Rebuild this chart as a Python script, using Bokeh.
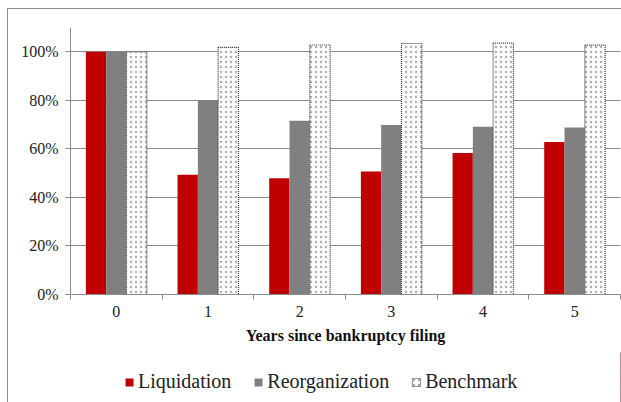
from bokeh.plotting import figure
from bokeh.layouts import column
from bokeh.models import (ColumnDataSource, FixedTicker, Legend, LegendItem,
                          NumeralTickFormatter, Range1d)
from bokeh.transform import dodge
from bokeh.embed import file_html
from bokeh.resources import INLINE

years = [0, 1, 2, 3, 4, 5]
liquidation = [1.00, 0.493, 0.479, 0.507, 0.583, 0.628]
reorganization = [1.00, 0.801, 0.716, 0.698, 0.691, 0.688]
benchmark = [1.00, 1.018, 1.028, 1.034, 1.036, 1.027]
y_ticks = [0, 0.2, 0.4, 0.6, 0.8, 1.0]
x_title = "Years since bankruptcy filing"
series_names = ["Liquidation", "Reorganization", "Benchmark"]

src = ColumnDataSource(dict(x=years, liq=liquidation, reo=reorganization, ben=benchmark))

SERIF = "Liberation Serif"
W = 0.2215
RED = "#C00000"
GRAY = "#808080"
AX = "#8c8c8c"
BEN = dict(fill_color="white", line_color="#333333", line_dash="1 1", line_width=1.2,
           hatch_pattern=".", hatch_color="#b0b0b0", hatch_scale=5, hatch_weight=1)

p = figure(width=613, height=343, output_backend="svg", toolbar_location=None,
           x_range=Range1d(-0.5, 5.5), y_range=Range1d(0, 1.1),
           min_border_left=62, min_border_right=1, min_border_top=18, min_border_bottom=58,
           outline_line_color=None)

r1 = p.vbar(x=dodge("x", -W, range=p.x_range), top="liq", width=W, source=src,
            fill_color=RED, line_color=None)
r2 = p.vbar(x=dodge("x", 0, range=p.x_range), top="reo", width=W, source=src,
            fill_color=GRAY, line_color=None)
r3 = p.vbar(x=dodge("x", W, range=p.x_range), top="ben", width=W, source=src, **BEN)

# axes
p.yaxis.ticker = FixedTicker(ticks=y_ticks)
p.yaxis.formatter = NumeralTickFormatter(format="0%")
p.yaxis.axis_line_color = AX
p.yaxis.major_tick_line_color = AX
p.yaxis.major_tick_out = 5
p.yaxis.major_tick_in = 0
p.yaxis.minor_tick_line_color = None
p.yaxis.major_label_text_font = SERIF
p.yaxis.major_label_text_font_size = "16px"
p.yaxis.major_label_text_color = "#222222"
p.yaxis.major_label_standoff = 7

p.xaxis.ticker = FixedTicker(ticks=years, minor_ticks=[y - 0.5 for y in years] + [5.5])
p.xaxis.axis_line_color = AX
p.xaxis.major_tick_line_color = None
p.xaxis.minor_tick_line_color = AX
p.xaxis.minor_tick_out = 5
p.xaxis.minor_tick_in = 0
p.xaxis.major_label_text_font = SERIF
p.xaxis.major_label_text_font_size = "16px"
p.xaxis.major_label_text_color = "#222222"
p.xaxis.major_label_standoff = 5
p.xaxis.axis_label = x_title
p.xaxis.axis_label_text_font = SERIF
p.xaxis.axis_label_text_font_size = "16px"
p.xaxis.axis_label_text_font_style = "bold"
p.xaxis.axis_label_text_color = "#111111"
p.xaxis.axis_label_standoff = 7

p.xgrid.grid_line_color = None
p.ygrid.ticker = FixedTicker(ticks=y_ticks)
p.ygrid.grid_line_color = AX
p.ygrid.grid_line_width = 1

# legend in its own strip below
q = figure(width=613, height=50, output_backend="svg", toolbar_location=None,
           x_range=Range1d(0, 1), y_range=Range1d(0, 1),
           min_border_left=0, min_border_right=0, min_border_top=0, min_border_bottom=0,
           outline_line_color=None)
q.axis.visible = False
q.grid.visible = False
offscreen = ColumnDataSource(dict(x=[10], top=[1]))
l1 = q.vbar(x="x", top="top", width=0.1, source=offscreen, fill_color=RED, line_color=None)
l2 = q.vbar(x="x", top="top", width=0.1, source=offscreen, fill_color=GRAY, line_color=None)
l3 = q.vbar(x="x", top="top", width=0.1, source=offscreen, **BEN)

legend = Legend(items=[LegendItem(label=series_names[0], renderers=[l1]),
                       LegendItem(label=series_names[1], renderers=[l2]),
                       LegendItem(label=series_names[2], renderers=[l3])],
                orientation="horizontal", location=(54, 9),
                label_text_font=SERIF, label_text_font_size="20px",
                label_text_color="#222222",
                glyph_width=10, glyph_height=10, label_standoff=4, spacing=22,
                border_line_color=None, background_fill_alpha=0,
                margin=0, padding=4)
q.add_layout(legend, "center")

layout = column(p, q, spacing=0,
                styles={"border-left": "1px solid #8c8c8c", "border-top": "1px solid #8c8c8c",
                        "margin-left": "7px", "margin-top": "8px"})

open("out.html", "w").write(file_html(layout, INLINE))
